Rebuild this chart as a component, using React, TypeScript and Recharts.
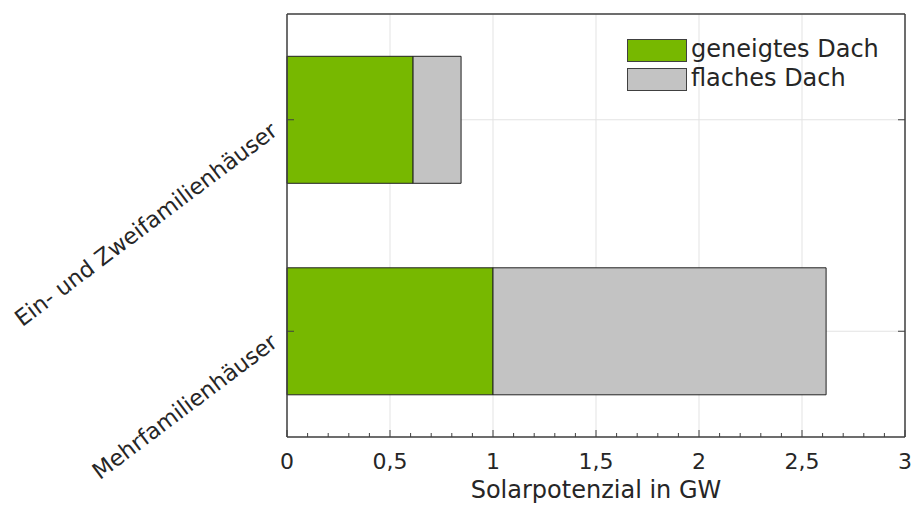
import { BarChart, Bar, XAxis, YAxis, CartesianGrid, Legend } from 'recharts';

const categories = ['Ein- und Zweifamilienhäuser', 'Mehrfamilienhäuser'];
const geneigtesDach = [0.612, 1.0];
const flachesDach = [0.233, 1.617];
const majorTicks = [0, 0.5, 1, 1.5, 2, 2.5, 3];
const minorTicks = Array.from({ length: 31 }, (_, i) => i / 10);

const data = categories.map((name, i) => ({
  name,
  geneigt: geneigtesDach[i],
  flach: flachesDach[i],
}));

const GREEN = '#77b800';
const GRAY = '#c3c3c3';
const AXIS = '#404040';
const TEXT = '#262626';
const FONT = 'DejaVu Sans, sans-serif';

const isMajor = (v: number) => majorTicks.some((m) => Math.abs(m - v) < 1e-6);

const BottomTick = (props: any) => {
  const { x, y, payload } = props;
  const major = isMajor(payload.value);
  return (
    <g>
      <line x1={x} x2={x} y1={y} y2={y - (major ? 7 : 4)} stroke={AXIS} strokeWidth={1} />
      {major && (
        <text x={x} y={y + 32} textAnchor="middle" fill={TEXT} fontSize={22} fontFamily={FONT}>
          {String(payload.value).replace('.', ',')}
        </text>
      )}
    </g>
  );
};

const TopTick = (props: any) => {
  const { x, y, payload } = props;
  const major = isMajor(payload.value);
  return <line x1={x} x2={x} y1={y} y2={y + (major ? 7 : 4)} stroke={AXIS} strokeWidth={1} />;
};

const LeftTick = (props: any) => {
  const { x, y, payload } = props;
  const ax = x - 8;
  const ay = y + 14;
  return (
    <g>
      <line x1={x} x2={x + 7} y1={y} y2={y} stroke={AXIS} strokeWidth={1} />
      <text
        x={ax}
        y={ay}
        textAnchor="end"
        fill={TEXT}
        fontSize={22.5}
        fontFamily={FONT}
        transform={`rotate(-37, ${ax}, ${ay})`}
      >
        {payload.value}
      </text>
    </g>
  );
};

const RightTick = (props: any) => {
  const { x, y } = props;
  return <line x1={x} x2={x - 7} y1={y} y2={y} stroke={AXIS} strokeWidth={1} />;
};

const LegendBox = () => (
  <svg width={280} height={60} style={{ display: 'block', overflow: 'visible' }}>
    {[
      { label: 'geneigtes Dach', color: GREEN },
      { label: 'flaches Dach', color: GRAY },
    ].map((item, i) => (
      <g key={item.label}>
        <rect x={0.5} y={2.5 + i * 29} width={59} height={22} fill={item.color} stroke={AXIS} strokeWidth={1} />
        <text x={64} y={20 + i * 29} fill={TEXT} fontSize={24} fontFamily={FONT}>
          {item.label}
        </text>
      </g>
    ))}
  </svg>
);

export default function App() {
  return (
    <div style={{ position: 'absolute', left: 0, top: 0, background: '#fff' }}>
      <BarChart
        width={912}
        height={505}
        data={data}
        layout="vertical"
        margin={{ top: 13, right: 6, left: 0, bottom: 0 }}
        barCategoryGap="20%"
      >
        <CartesianGrid stroke="#e3e3e3" strokeWidth={1} verticalValues={majorTicks} xAxisId="bottom" yAxisId="left" />
        <XAxis
          xAxisId="bottom"
          type="number"
          domain={[0, 3]}
          ticks={minorTicks}
          interval={0}
          height={68}
          tickSize={0}
          tickMargin={0}
          tickLine={false}
          axisLine={{ stroke: AXIS, strokeWidth: 1.5 }}
          tick={<BottomTick />}
          label={{
            content: () => (
              <text x={596} y={498} textAnchor="middle" fill={TEXT} fontSize={24} fontFamily={FONT}>
                Solarpotenzial in GW
              </text>
            ),
          }}
        />
        <XAxis
          xAxisId="top"
          orientation="top"
          type="number"
          domain={[0, 3]}
          ticks={minorTicks}
          interval={0}
          height={1}
          tickSize={0}
          tickMargin={0}
          tickLine={false}
          axisLine={{ stroke: AXIS, strokeWidth: 1.5 }}
          tick={<TopTick />}
        />
        <YAxis
          yAxisId="left"
          type="category"
          dataKey="name"
          width={287}
          tickSize={0}
          tickMargin={0}
          tickLine={false}
          axisLine={{ stroke: AXIS, strokeWidth: 1.5 }}
          tick={<LeftTick />}
          interval={0}
        />
        <YAxis
          yAxisId="right"
          orientation="right"
          type="category"
          dataKey="name"
          width={1}
          tickSize={0}
          tickMargin={0}
          tickLine={false}
          axisLine={{ stroke: AXIS, strokeWidth: 1.5 }}
          tick={<RightTick />}
          interval={0}
        />
        <Legend
          layout="horizontal"
          verticalAlign="middle"
          align="center"
          content={<LegendBox />}
          wrapperStyle={{ left: 627, top: 37, width: 280, height: 60 }}
        />
        <Bar
          dataKey="geneigt"
          name="geneigtes Dach"
          stackId="a"
          fill={GREEN}
          stroke="#222"
          strokeWidth={1}
          xAxisId="bottom"
          yAxisId="left"
          isAnimationActive={false}
        />
        <Bar
          dataKey="flach"
          name="flaches Dach"
          stackId="a"
          fill={GRAY}
          stroke="#222"
          strokeWidth={1}
          xAxisId="bottom"
          yAxisId="left"
          isAnimationActive={false}
        />
      </BarChart>
    </div>
  );
}
